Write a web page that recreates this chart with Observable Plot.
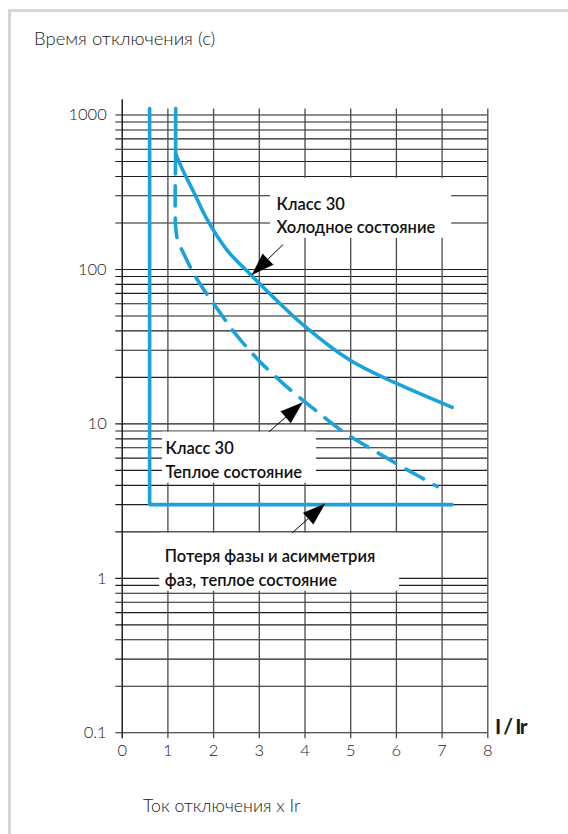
<!DOCTYPE html>
<html>
<head>
<meta charset="utf-8">
<script src="https://cdn.jsdelivr.net/npm/d3@7"></script>
<script src="https://cdn.jsdelivr.net/npm/@observablehq/plot@0.6"></script>
<style>
  body { margin: 0; background: #fff; }
  #page { position: relative; width: 568px; height: 834px; overflow: hidden; font-family: Lato, "Open Sans", sans-serif; color: #1a1a1a; }
  #frame { position: absolute; left: 8px; top: 9px; width: 600px; height: 900px; border-top: 3px solid #d6d6d6; border-left: 3px solid #d6d6d6; }
  #chart { position: absolute; left: 0; top: 0; }
  .txt { position: absolute; white-space: nowrap; font-weight: 300; }
  #title { left: 34px; top: 27px; font-size: 18.5px; line-height: 22px; }
  #caption { left: 143px; top: 794px; font-size: 17.8px; line-height: 22px; }
  #xunit { left: 495px; top: 714px; font-size: 21px; line-height: 24px; font-weight: 700; letter-spacing: -1.5px; }
</style>
</head>
<body>
<div id="page">
  <div id="frame"></div>
  <div id="chart"></div>
  <div class="txt" id="title">Время отключения (с)</div>
  <div class="txt" id="xunit">I / Ir</div>
  <div class="txt" id="caption">Ток отключения x Ir</div>
</div>
<script>
// ---- data ----
const xTicks = [0, 1, 2, 3, 4, 5, 6, 7, 8];
const yTicks = [0.1, 1, 10, 100, 1000];
const yTickLabels = ["0.1", "1", "10", "100", "1000"];
const decades = [0.1, 1, 10, 100];
const multipliers = [1, 2, 3, 4, 5, 6, 7, 8, 9];

// phase loss / asymmetry (warm)
const phaseX = [0.6, 0.6, 7.22];
const phaseY = [1100, 3, 3];

// Class 30 cold: vertical part then curve
const coldTopX = [1.17, 1.17];
const coldTopY = [1100, 560];
const coldX = [1.17, 1.232, 1.363, 1.567, 1.86, 2.298, 2.807, 3.974, 4.996, 6.018, 7.221];
const coldY = [560, 507, 416, 316, 210, 133, 92.8, 43.4, 25.7, 18.2, 12.8];

// Class 30 warm (dashed)
const warmX = [1.17, 1.17, 1.217, 1.385, 1.567, 1.751, 2.004, 2.479, 3.026, 3.573, 4.193, 4.849, 5.505, 6.199, 6.893];
const warmY = [560, 188, 154, 120, 93.7, 76.8, 59.9, 38.3, 25.1, 17.7, 12.5, 8.84, 6.73, 5.12, 3.93];

// annotations
const annLabels = ["Класс 30\nХолодное состояние", "Класс 30\nТеплое состояние", "Потеря фазы и асимметрия\nфаз, теплое состояние"];
const annTextX = [3.376, 0.947, 0.932];
const annTextY = [312, 8.13, 1.63];
const annTipX = [2.845, 3.94, 4.43];
const annTipY = [92.7, 13.7, 3.03];
const annTailX = [3.52, 3.21, 3.72];
const annTailY = [145, 8.88, 1.97];
const annBoxX1 = [3.245, 0.88, 0.82];
const annBoxX2 = [7.21, 4.25, 6.07];
const annBoxY1 = [159, 4.13, 0.826];
const annBoxY2 = [389, 8.84, 1.96];

// ---- layout ----
const W = 568, H = 834;
const mL = 121.7, mR = 80.7, mT = 114.5, mB = 101.7;
const xDomain = [0, 8], yDomain = [0.1, 1000];
const gridTop = 1094, axisTop = 1254, tickBottom = 0.0915, tickOverhang = 0.14;
const blue = "#1ba1dc";

const toPts = (xs, ys) => xs.map((x, i) => ({x, y: ys[i]}));
const gridYValues = decades.flatMap(d => multipliers.map(m => +(d * m).toPrecision(3))).concat([1000]);

const xs = Plot.scale({x: {domain: xDomain, range: [mL, W - mR]}});
const ys = Plot.scale({y: {type: "log", domain: yDomain, range: [H - mB, mT]}});

const annotations = annLabels.map((label, i) => {
  const dx = xs.apply(annTipX[i]) - xs.apply(annTailX[i]);
  const dy = ys.apply(annTipY[i]) - ys.apply(annTailY[i]);
  return {
    label,
    lx: annTextX[i], ly: annTextY[i],
    tx: annTipX[i], ty: annTipY[i],
    sx: annTailX[i], sy: annTailY[i],
    bx1: annBoxX1[i], bx2: annBoxX2[i], by1: annBoxY1[i], by2: annBoxY2[i],
    rot: Math.atan2(dx, -dy) * 180 / Math.PI
  };
});

const chart = Plot.plot({
  width: W,
  height: H,
  marginLeft: mL, marginRight: mR, marginTop: mT, marginBottom: mB,
  style: {fontFamily: "Lato, 'Open Sans', sans-serif", fontSize: "16px", color: "#1a1a1a", background: "transparent", overflow: "visible"},
  x: {domain: xDomain, label: null},
  y: {type: "log", domain: yDomain, label: null},
  marks: [
    Plot.ruleY(gridYValues, {x1: -tickOverhang, x2: xDomain[1], stroke: "#1e1e1e", strokeWidth: 1.1}),
    Plot.ruleX(xTicks.filter(d => d > 0), {y1: tickBottom, y2: gridTop, stroke: "#4a4a4a", strokeWidth: 1.3}),
    Plot.ruleX([0], {y1: tickBottom, y2: axisTop, stroke: "#000", strokeWidth: 1.3}),
    Plot.rect(annotations, {x1: "bx1", x2: "bx2", y1: "by1", y2: "by2", fill: "white"}),
    Plot.line(toPts(phaseX, phaseY), {x: "x", y: "y", stroke: blue, strokeWidth: 3.6, strokeLinejoin: "miter"}),
    Plot.line(toPts(coldTopX, coldTopY), {x: "x", y: "y", stroke: blue, strokeWidth: 3.6}),
    Plot.line(toPts(coldX, coldY), {x: "x", y: "y", stroke: blue, strokeWidth: 3.6, curve: "catmull-rom"}),
    Plot.line(toPts(warmX, warmY), {x: "x", y: "y", stroke: blue, strokeWidth: 3.6, curve: "catmull-rom", strokeDasharray: "20,12"}),
    Plot.link(annotations, {x1: "sx", y1: "sy", x2: "tx", y2: "ty", stroke: "#000", strokeWidth: 1}),
    Plot.vector(annotations, {x: "tx", y: "ty", rotate: "rot", length: 22, shape: "spike", r: 7.5, anchor: "end", fill: "#000", stroke: "#000", strokeWidth: 0.5}),
    Plot.text(annotations, {x: "lx", y: "ly", text: "label", textAnchor: "start", lineAnchor: "top", lineHeight: 1.42, fontSize: 16.5, fontWeight: 600, fill: "#111"}),
    Plot.axisY({ticks: yTicks, tickSize: 0, tickPadding: 15.5, tickFormat: d => yTickLabels[yTicks.indexOf(d)], fontSize: 16.5, fontWeight: 300, label: null}),
    Plot.axisX({ticks: xTicks, tickSize: 0, tickPadding: 11, fontSize: 16.5, fontWeight: 300, label: null})
  ]
});
document.getElementById("chart").appendChild(chart);
</script>
</body>
</html>
